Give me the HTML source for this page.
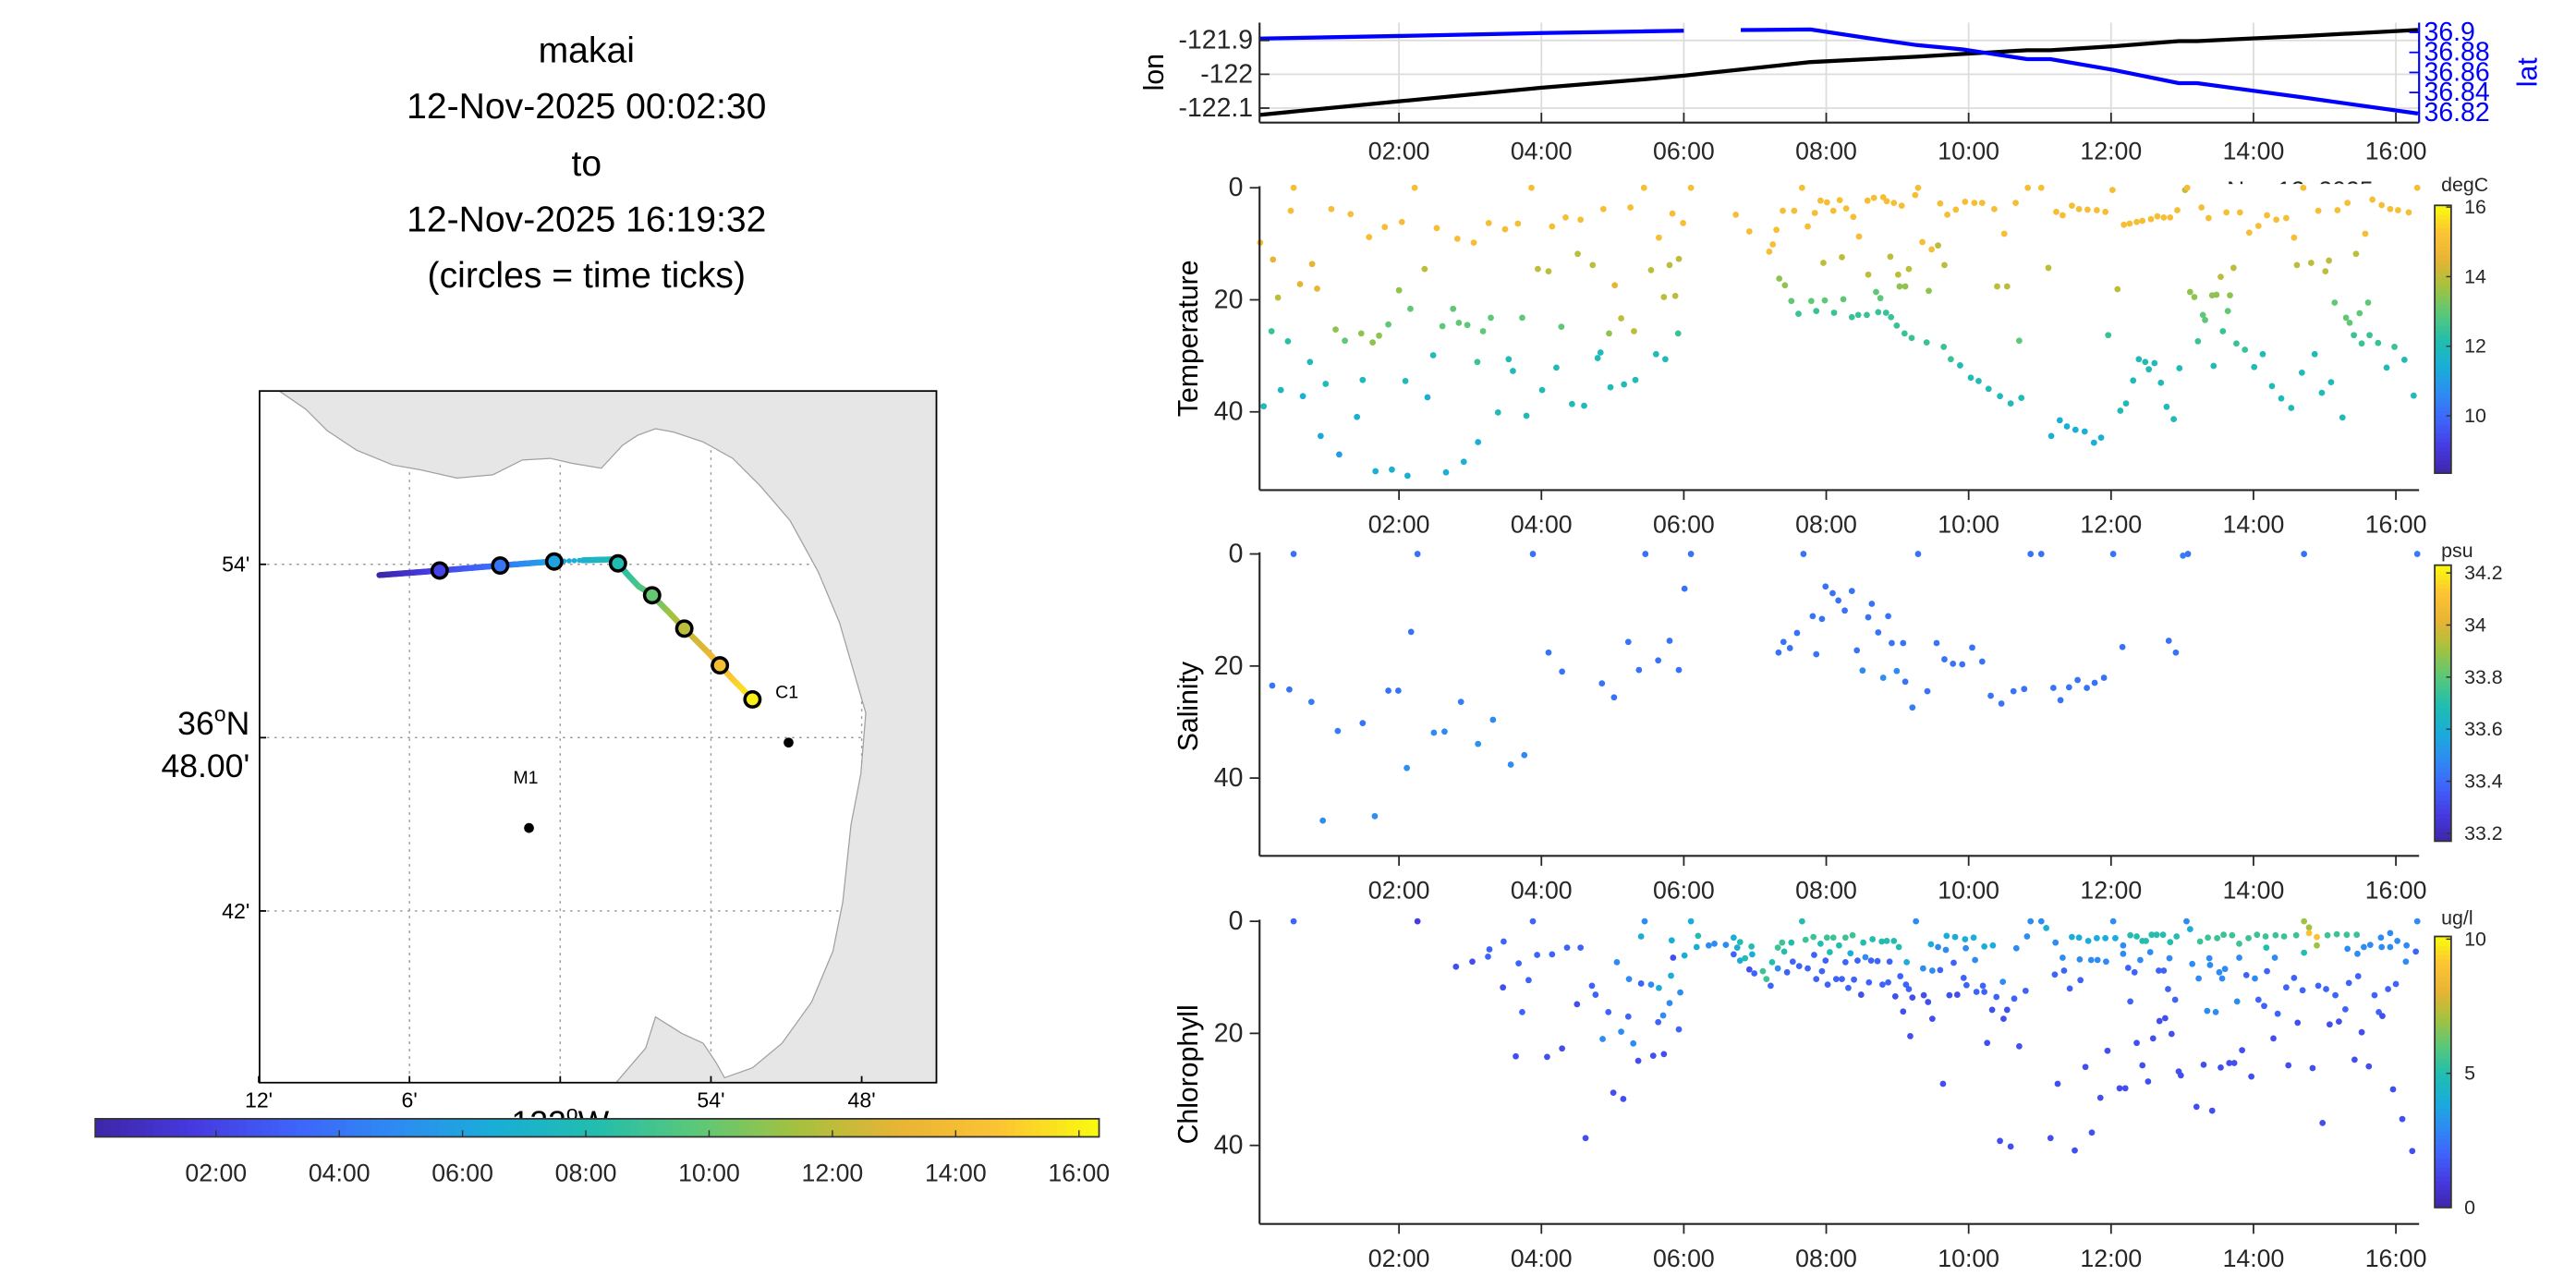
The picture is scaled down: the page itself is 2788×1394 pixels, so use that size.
<!DOCTYPE html>
<html><head><meta charset="utf-8"><style>
html,body{margin:0;padding:0;background:#fff;}
svg{display:block;font-family:"Liberation Sans",sans-serif;}
</style></head><body>
<svg id="fig" xmlns="http://www.w3.org/2000/svg" width="2788" height="1394" viewBox="0 0 1568 784">
<rect x="0" y="0" width="1568" height="784" fill="#fff"/>
<g font-size="22" text-anchor="middle" fill="#000">
<text x="357" y="38">makai</text>
<text x="357" y="72">12-Nov-2025 00:02:30</text>
<text x="357" y="107">to</text>
<text x="357" y="141">12-Nov-2025 16:19:32</text>
<text x="357" y="175">(circles = time ticks)</text>
</g>
<g id="map"></g>
<g id="mapcb"></g>
<g id="top"></g>
<g id="ptemp"></g>
<g id="psal"></g>
<g id="pchl"></g>
</svg>
<script>
// ---------- data ----------
const timeTicks = [2,4,6,8,10,12,14,16];
const timeTickLabels = ["02:00","04:00","06:00","08:00","10:00","12:00","14:00","16:00"];
const tStart = 0.042, tEnd = 16.326;

const navTime = [0.04,2.0,3.99,5.44,6.0,6.4,6.8,7.78,8.63,9.27,9.92,10.82,11.15,12.05,12.95,13.21,14.70,16.31];
const navLon  = [-122.12,-122.08,-122.04,-122.015,-122.004,-121.995,-121.986,-121.964,-121.955,-121.948,-121.94,-121.929,-121.929,-121.917,-121.902,-121.902,-121.887,-121.869];
const navLat  = [36.8938,36.8964,36.8993,36.9010,36.9016,NaN,36.9023,36.9029,36.8938,36.8873,36.8830,36.8733,36.8733,36.8623,36.8493,36.8493,36.835,36.819];
const lonTicks = [-121.9,-122,-122.1];
const latTicks = [36.9,36.88,36.86,36.84,36.82];

const tempTime = [0.05,0.23,0.30,0.21,0.10,0.44,0.34,0.52,0.48,0.61,0.78,0.85,0.75,0.65,0.97,0.90,1.05,1.11,1.16,1.24,1.32,1.41,1.47,1.49,1.58,1.63,1.67,1.72,1.80,1.85,1.90,2.0,2.04,2.09,2.12,2.16,2.22,2.36,2.40,2.48,2.53,2.61,2.66,2.76,2.82,2.84,2.91,2.96,3.05,3.10,3.11,3.18,3.26,3.29,3.39,3.49,3.54,3.60,3.67,3.73,3.79,3.86,3.95,4.01,4.10,4.15,4.21,4.28,4.34,4.43,4.51,4.55,4.60,4.72,4.79,4.83,4.87,4.95,4.97,5.03,5.12,5.16,5.25,5.30,5.32,5.44,5.54,5.61,5.65,5.72,5.74,5.80,5.84,5.88,5.93,5.92,5.99,6.10,
6.73,6.92,7.20,7.25,7.30,7.34,7.39,7.42,7.51,7.55,7.61,7.66,7.74,7.79,7.86,7.84,7.92,7.96,7.98,8.01,8.10,8.11,8.19,8.22,8.24,8.28,8.36,8.38,8.45,8.46,8.57,8.59,8.58,8.67,8.70,8.73,8.76,8.80,8.84,8.85,8.91,8.90,8.95,8.99,9.01,9.03,9.06,9.10,9.11,9.16,9.20,9.25,9.29,9.35,9.41,9.44,9.48,9.57,9.60,9.65,9.66,9.70,9.75,9.82,9.88,9.95,10.03,10.08,10.14,10.19,10.28,10.36,10.40,10.44,10.50,10.54,10.59,10.66,10.74,10.71,10.83,
11.02,11.12,11.16,11.23,11.28,11.32,11.38,11.45,11.50,11.55,11.63,11.67,11.76,11.80,11.86,11.92,11.96,12.02,12.09,12.13,12.18,12.21,12.26,12.31,12.36,12.39,12.44,12.48,12.53,12.56,12.61,12.65,12.70,12.74,12.78,12.83,12.88,12.93,12.96,13.04,13.07,13.11,13.17,13.22,13.27,13.29,13.32,13.37,13.42,13.44,13.48,13.54,13.57,13.62,13.64,13.67,13.72,13.76,13.81,13.88,13.94,14.01,14.07,14.13,14.19,14.26,14.32,14.39,14.46,14.53,14.57,14.61,14.68,14.70,14.81,14.86,14.91,14.96,15.01,15.06,15.09,15.14,15.18,15.25,15.30,15.32,15.35,15.41,15.44,15.49,15.52,15.57,15.61,15.63,15.67,15.75,15.80,15.87,15.92,15.98,16.03,16.12,16.18,16.25,16.30];
const tempDepth = [9.8,12.8,19.6,25.6,39,27.4,36.1,0,4.1,17.2,13.6,18,31.1,37.2,35,44.3,3.8,25.3,47.6,27.3,4.7,40.9,26,34.3,8.8,27.6,50.6,26.4,7,24.4,50.3,18.3,6.1,34.5,51.4,21.6,0,14.5,37.4,29.9,7.2,24.7,50.8,21.6,9.1,24.1,48.9,24.5,9.8,31.1,45.4,25.6,6.3,23.2,40.1,7.4,30.6,32.7,6.4,23.2,40.7,0,14.5,36.1,14.9,6.9,32.1,24.8,5.3,38.6,11.8,5.7,38.9,13.8,30.4,29.4,3.8,26,35.6,17.4,23.3,35.1,3.5,25.6,34.3,0,14.7,29.7,8.9,19.5,30.6,13.8,4.6,19.3,12.7,26,6.3,0,
4.8,7.8,11.4,10.1,7.5,16.2,4.1,17.4,20.2,4.1,22.5,0,6.9,20.2,22,4.5,2.3,13.4,20.1,2.6,4.1,22.3,2.2,12.4,19.9,3.7,23.1,5.2,22.7,8.7,22.7,15.5,2.3,1.8,18.6,22.2,19.7,1.7,22.3,2.4,23.1,12.3,2.7,24.6,15.5,17.6,3.2,26,17.6,14.5,26.8,1.3,0,9.7,27.6,18.4,11,10.3,2.8,28.4,13.8,4.8,30.6,3.9,31.7,2.5,33.9,2.7,34.5,2.7,35.9,3.8,17.6,37.2,8.2,17.6,38.5,2.7,37.5,27.3,0,
0,14.3,44.3,4.3,41.5,4.9,42.6,3.2,43.2,3.8,43.5,3.9,45.5,4,44.6,4.3,26.3,0.4,18.1,39.8,6.6,38.5,6.4,34.4,6.1,30.6,5.9,31.1,32.4,5.6,31.3,5.1,34.8,5.3,39.1,5.3,41.3,4,32.2,0.4,0,18.6,19.5,27.4,3.5,22.7,23.6,5.4,19.2,31.8,19.1,15.9,25.6,4.4,22,19.2,14.3,27.8,4.4,28.9,8,32,6.8,29.7,4.9,35.4,5.7,37.6,5.4,39.3,8.9,13.8,33,0,13.4,29.7,4.1,36.6,14.9,13,34.7,20.5,4,41,23.2,2.7,24.1,26.3,11.8,22.4,27.8,8.2,20.5,26.3,2.1,27.7,3.1,32.1,3.8,28.4,4,30.7,4.4,37.1,0];
const tempValue = [15,14.5,14,12.5,12,12.3,11.8,15,15,14.5,14.5,14.5,12,11.5,12,11.3,15,13.5,11,13,15,11.5,13.5,12,15,13.5,11.5,13.5,15,13,11.5,13.5,15,12,11.5,13,15,14,11.5,12,15,13,11.5,13,15,13,11.5,13,15,12.5,11.5,13,15,13,12,15,12,12,15,13,12,15,14,12,14,15,12,13,15,12,14,15,12,14,12,12,15,13.5,12,14.5,14,12,15,14,12,15,14,12,15,14,12,14,15,14,14,12.5,15,15,
15,15,15,15,15,13.5,15,13.5,13,15,12.5,15,15,13,12.5,15,15,14,13,15,15,12.5,15,14,13,15,12.5,15,12.5,15,12.5,14,15,15,13,12.5,13,15,12.5,15,12.5,14,15,12.5,14,13.5,15,12.5,13.5,14,12.5,15,15,15,12.5,13.5,15,14,15,12.5,14,15,12.5,15,12,15,12,15,12,15,12,15,14,12,15,14,12,15,12,13,15,
15,14,11.5,15,11.5,15,11.5,15,11.5,15,11.5,15,11.5,15,11.5,15,12.5,15,14,12,15,12,15,12,15,12,15,12,12,15,12,15,12,15,12,15,12,15,12,14,15,13.5,13.5,12.5,15,13,13,15,13.5,12,13.5,14,12.5,15,13,13.5,14,12.5,15,12.5,15,12,15,12,15,12,15,12,15,12,15,14,12,15,14,12,15,12,14,14,12,13,15,12,13,15,13,12.5,14,13,12.5,15,13,12.5,15,12.5,15,12,15,12.5,15,12,15,12,15];

const salTime = [0.52,2.26,3.88,5.46,6.10,7.68,9.29,10.87,11.02,12.03,13.01,13.08,14.71,16.30,6.01,2.17,
0.22,0.46,0.77,1.85,1.99,2.87,1.14,1.49,2.49,2.64,3.32,3.11,2.11,3.76,3.57,0.93,1.66,
4.10,4.29,4.85,5.02,5.22,5.37,5.64,5.80,5.93,
7.33,7.40,7.49,7.59,7.81,7.86,7.94,7.99,8.09,8.17,8.26,8.36,8.43,8.51,8.59,8.64,8.73,8.80,8.87,8.92,8.99,9.08,9.11,9.21,9.42,9.55,9.66,9.78,9.91,10.05,10.19,10.31,10.46,10.63,10.78,11.19,11.29,11.41,11.53,11.66,11.77,11.90,12.16,12.81,12.91];
const salDepth = [0,0,0,0,0,0,0,0,0,0,0.3,0,0,0,6.2,13.9,
23.5,24.2,26.4,24.4,24.4,26.4,31.6,30.2,31.9,31.7,29.6,33.9,38.2,35.9,37.6,47.6,46.8,
17.6,21,23.1,25.6,15.7,20.7,19,15.5,20.7,
17.6,15.7,16.8,14.1,11.1,17.9,11.6,5.8,7,8.3,10.1,6.6,17.2,20.8,11.3,8.9,14,22.1,11.1,15.9,20.9,15.9,22.8,27.4,24.5,15.9,18.8,19.6,19.7,16.7,19.2,25.3,26.7,24.5,24.1,23.9,26.1,23.8,22.5,23.9,23,22.1,16.6,15.5,17.6];
const salValue = [33.42,33.42,33.42,33.42,33.42,33.42,33.42,33.42,33.42,33.42,33.45,33.42,33.42,33.45,33.42,33.42,
33.42,33.42,33.45,33.42,33.42,33.45,33.45,33.42,33.48,33.48,33.48,33.5,33.5,33.48,33.5,33.5,33.5,
33.42,33.42,33.42,33.42,33.42,33.42,33.42,33.42,33.42,
33.42,33.42,33.42,33.42,33.42,33.42,33.42,33.42,33.42,33.42,33.42,33.42,33.42,33.48,33.42,33.42,33.42,33.5,33.42,33.42,33.48,33.42,33.42,33.45,33.42,33.42,33.42,33.42,33.42,33.42,33.42,33.42,33.42,33.42,33.42,33.42,33.42,33.42,33.42,33.42,33.42,33.42,33.42,33.42,33.42];

const chlTime = [0.52,2.26,3.88,5.45,6.10,7.66,9.26,10.87,11.02,11.09,12.03,13.06,14.71,14.78,14.78,14.89,14.89,16.30,
3.47,3.27,3.25,3.03,2.80,3.68,3.94,4.15,4.36,4.55,3.82,3.46,3.73,4.50,4.71,4.76,4.94,5.22,5.06,5.23,5.40,5.54,5.65,5.40,5.83,5.85,5.82,5.95,5.80,5.71,5.64,5.93,5.12,4.86,5.29,4.29,4.08,3.64,5.72,5.57,5.36,5.01,5.15,4.62,
6.01,6.20,6.18,6.35,6.43,6.59,6.70,6.79,6.75,6.70,6.79,6.86,6.95,6.96,6.92,6.99,7.11,7.16,7.22,7.24,7.32,7.38,7.41,7.32,7.45,7.51,7.53,7.62,7.71,7.74,7.82,7.83,7.86,7.92,7.94,7.99,8.01,8.02,8.05,8.10,8.14,8.18,8.22,8.27,8.27,8.31,8.34,8.37,8.39,8.44,8.49,8.52,8.55,8.60,8.65,8.63,8.72,8.78,8.79,8.85,8.87,8.89,8.95,8.97,9.02,9.04,9.12,9.13,9.16,9.21,9.08,9.18,9.37,9.43,9.36,9.47,9.49,9.60,9.49,9.64,9.69,9.57,9.68,9.81,9.79,9.84,9.73,9.93,9.97,9.95,9.96,10.07,10.09,10.11,10.20,10.22,10.22,10.34,10.39,10.33,10.48,10.54,10.49,10.64,10.67,10.26,10.71,10.44,10.59,
10.80,10.82,11.21,11.22,11.32,11.34,11.42,11.45,11.55,11.56,11.57,11.68,11.72,11.80,11.81,11.92,11.93,12.06,12.17,12.17,12.24,12.27,12.33,12.36,12.41,12.44,12.49,12.55,12.57,12.64,12.67,12.73,12.74,12.82,12.83,12.92,12.80,12.90,12.27,12.68,12.76,12.85,12.59,12.36,11.95,11.64,12.44,12.52,12.95,12.98,11.25,11.85,12.12,12.20,11.73,11.49,11.15,
13.14,13.11,13.23,13.25,13.36,13.38,13.39,13.49,13.52,13.56,13.58,13.60,13.70,13.80,13.80,13.90,13.93,14.05,14.02,14.17,14.18,14.19,14.30,14.31,14.43,14.46,14.57,14.60,14.69,14.71,14.91,15.02,15.04,15.15,15.17,15.31,15.32,15.34,15.45,15.46,15.47,15.55,15.64,15.70,15.79,15.80,15.89,15.92,15.92,16.00,16.02,16.15,16.14,16.28,13.35,13.47,13.77,14.07,14.15,14.34,14.62,15.07,15.20,15.29,15.76,15.81,15.52,14.28,13.84,13.66,13.73,13.54,13.30,13.97,14.49,14.83,15.42,15.62,15.96,13.20,13.42,14.97,16.09,16.23];
const chlDepth = [0,0,0,0,0,0,0,0,0,1.2,0,0,0,1.1,2.1,2.8,4.3,0,
3.6,5,6.3,7.2,8.1,7.5,6,5.9,4.7,4.7,10.5,11.8,16.2,14.8,11.5,13.1,16.2,17,7.3,10.3,11.1,11.3,11.9,2.7,3.4,6.5,9.7,12.7,14.6,16.8,18,19.3,19.7,21,21.8,22.7,24.2,24.1,23.7,24,24.9,30.6,31.7,38.7,
6.1,2.6,4.6,4.3,4,4.2,2.9,3.7,4.7,5.9,7,6.6,4.5,5.9,8.6,9.3,8.9,10.3,11.5,7.3,4.7,3.8,5.4,8.4,9.1,3.8,7.2,8,3.3,8.4,2.8,6,10.3,4,8.9,7,2.9,11.3,5.5,2.9,10.3,4.3,10.3,2.9,7.3,11.9,5.7,2.5,10.4,7,13.1,3.8,6.4,10.9,3.2,7,7.1,3.6,11.3,3.5,10.9,7.2,3.5,13.4,4.6,9.8,11.3,7.3,12.1,13.6,16.1,20.5,13.2,14.4,8.4,4.1,8.8,8.7,17.4,29,2.6,4.6,5.1,2.8,7.4,13.1,13.2,10.1,11.4,3.2,4.8,2.9,6.9,12.6,11.5,12.6,4.5,4.3,13.5,15.8,10.8,15.8,17.4,13.8,4.8,21.7,22.3,39.2,40.2,
12.4,2.7,9.5,3.8,6.5,8.8,12,2.8,2.9,6.8,10.5,3.5,6.9,3,6.9,3,7.2,3,4.3,5.8,8.3,2.5,9.1,2.7,6.9,3.5,3.5,5.5,2.4,2.4,8.8,2.4,8.8,6.6,3.7,2.7,12.1,14,14.3,17.8,17.3,20.1,20.9,21.7,23.1,26,25.7,28.6,26.8,27.5,29,31.5,29.8,29.8,37.7,40.9,38.7,
7.6,1.4,10.2,3.6,2.9,6.6,7.8,3,9.1,10.2,2.4,8.5,2.5,4,6.5,9.6,3,2.4,10.2,2.7,4.7,8.9,6.5,2.5,2.7,11.8,10.1,2.5,12.3,5.6,11.5,12.1,2.5,13.2,2.3,2.4,4.9,11,2.4,5.8,9.8,4.6,4.2,13.2,2.9,4.6,12.1,2.1,4.6,11.2,3.5,4.3,7.2,5.4,16,16.2,14.3,14,15.1,16.5,18.1,18.4,17.9,15.7,16.2,16.9,19.8,20.9,23,25.3,25.3,26.1,25.6,27.7,25.7,26.2,24.7,25.9,30,33.1,33.8,36,35.3,41];
const chlValue = [2,1,2,3,4,5,3,3,3,4,3,3,7,7,9,9,7,3,
2,2,2,1.5,1.5,2,2,2,2,2,2,1.5,2,1.5,2,2,2,2,3,3,2,3,4,4,4,1.5,4,3,3,3,2,2,3,3,3,1.5,1.5,1.5,1.5,1.5,1.5,1.5,1.5,1.5,
4,5,4,3,3,3,4,5,4,2,4,5,5,4,1.5,2,5.5,5.5,2,5,5.5,5.5,5,3,2,5,2,2,5.5,2,5.5,2,2,5,2,2,5.5,2,5,5.5,2,5,2,5.5,2,2,4,5.5,2,2,1.5,5,3,2,5,2,2,5,2,5,2,2,5,1.5,5,2,2,4,2,1.5,1.5,1.5,1.5,1.5,3,4,3,2,1.5,1.5,4,3,3,4,2,1.5,1.5,2,2,4,3,4,3,2,2,2,4,4,2,1.5,3,1.5,1.5,2,3,1.5,1.5,1.5,1.5,
2,3,2,3,3,2,2,4,4,3,2,4,3,4,3,4,3,4,3,3,2,5,2,5,3,5,5,3,5,5,2,5,2,3,5,5,2,2,2,1.5,1.5,1.5,1.5,1.5,1.5,1.5,1.5,1.5,1.5,1.5,1.5,1.5,1.5,1.5,1.5,1.5,1.5,
3,4,3,5.5,5.5,3,3,5.5,3,3,5.5,3,5.5,5.5,3,2,5.5,5.5,3,5.5,5,2,3,5.5,5.5,2,2,5.5,2,5,2,2,5.5,2,5.5,5.5,3,2,5.5,3,2,3,3,2,3,3,2,3,3,2,3,3,3,2,3,3,3,2,2,2,1.5,1.5,1.5,2,2,1.5,1.5,1.5,1.5,1.5,1.5,1.5,1.5,1.5,1.5,1.5,1.5,1.5,1.5,1.5,1.5,1.5,1.5,1.5];

const depthTicks = [0,20,40];
const tempCbTicks = [10,12,14,16], salCbTicks = [33.2,33.4,33.6,33.8,34,34.2], chlCbTicks = [0,5,10];

// ---------- helpers ----------
const NS = "http://www.w3.org/2000/svg";
function el(tag, attrs, parent){ const e=document.createElementNS(NS,tag); for(const k in attrs) e.setAttribute(k,attrs[k]); if(parent) parent.appendChild(e); return e; }
function txt(parent, x, y, s, attrs){ const e=el("text",Object.assign({x:x,y:y},attrs||{}),parent); e.textContent=s; return e; }
const stops=[[0,[62,38,168]],[0.1,[70,58,225]],[0.2,[62,100,250]],[0.3,[45,140,242]],[0.4,[25,174,215]],[0.5,[34,190,172]],[0.6,[92,200,120]],[0.7,[165,193,62]],[0.8,[232,180,52]],[0.9,[252,195,52]],[1,[249,251,14]]];
function parula(f){ f=Math.max(0,Math.min(1,f)); for(let i=1;i<stops.length;i++){ if(f<=stops[i][0]){ const a=stops[i-1],b=stops[i],u=(f-a[0])/(b[0]-a[0]); const c=a[1].map((v,j)=>Math.round(v+(b[1][j]-v)*u)); return "rgb("+c.join(",")+")"; } } return "rgb(249,251,14)"; }
function interp(xs, ys, x){ for(let i=1;i<xs.length;i++){ if(x<=xs[i]){ const u=(x-xs[i-1])/(xs[i]-xs[i-1]); return ys[i-1]+(ys[i]-ys[i-1])*u; } } return ys[ys.length-1]; }
function latFilled(t){ const xs=[],ys=[]; navTime.forEach((v,i)=>{ if(!isNaN(navLat[i])){xs.push(v);ys.push(navLat[i]);} }); return interp(xs,ys,t); }
const timeFrac = t => (t-tStart)/(tEnd-tStart);

// ---------- time axis for right panels ----------
const X0 = 766.7, X1 = 1472.5;
const xT = t => X0 + (t - tStart) * (X1 - X0) / (tEnd - tStart);
const TXT = "#262626";

function xAxis(g, yb, inward, labelY){
  el("line",{x1:X0,y1:yb,x2:X1,y2:yb,stroke:"#262626","stroke-width":1.2},g);
  timeTicks.forEach((t,i)=>{
    const x=xT(t);
    const tk=el("line",{x1:x,y1:yb,x2:x,y2:inward?yb-6:yb+6,stroke:"#262626","stroke-width":1},g);
    
    
    const lb=txt(g,x,labelY,timeTickLabels[i],{"font-size":15,"text-anchor":"middle",fill:TXT,"dominant-baseline":"central"});
    
    
  });
}

// ---------- top lon/lat panel ----------
(function(){
  const g=document.getElementById("top");
  const yTop=13.8, yBot=74.6;
  const yLon = v => 45.2 - (v + 122) * 206;
  const yLat = v => 19.7 + (36.9 - v) * 610;
  timeTicks.forEach(t=>{ const l=el("line",{x1:xT(t),y1:yTop,x2:xT(t),y2:yBot,stroke:"#dcdcdc","stroke-width":1},g);   });
  lonTicks.forEach(v=>{ const l=el("line",{x1:X0,y1:yLon(v),x2:X1,y2:yLon(v),stroke:"#dcdcdc","stroke-width":1},g);   });
  const lonPath=el("polyline",{points:navTime.map((t,i)=>xT(t)+","+yLon(navLon[i])).join(" "),fill:"none",stroke:"#000","stroke-width":2.4},g);
  
  
  let segs=[],cur=[];
  navTime.forEach((t,i)=>{ if(isNaN(navLat[i])){ if(cur.length) segs.push(cur); cur=[]; } else cur.push(xT(t)+","+yLat(navLat[i])); });
  if(cur.length) segs.push(cur);
  segs.forEach(s=>{ const p=el("polyline",{points:s.join(" "),fill:"none",stroke:"#0000ff","stroke-width":2.4},g);   });
  el("line",{x1:X0,y1:yTop,x2:X0,y2:yBot,stroke:"#262626","stroke-width":1.2},g);
  el("line",{x1:X1,y1:yTop,x2:X1,y2:yBot,stroke:"#0000ff","stroke-width":1.2},g);
  xAxis(g,yBot,true,92);
  lonTicks.forEach(v=>{ const y=yLon(v);
    el("line",{x1:X0,y1:y,x2:X0+6,y2:y,stroke:"#262626","stroke-width":1},g);
    const lb=txt(g,X0-4,y,String(v),{"font-size":16,"text-anchor":"end",fill:TXT,"dominant-baseline":"central"});
    
    
  });
  latTicks.forEach(v=>{ const y=yLat(v);
    el("line",{x1:X1,y1:y,x2:X1-6,y2:y,stroke:"#0000ff","stroke-width":1},g);
    const lb=txt(g,X1+3,y,String(v),{"font-size":16,"text-anchor":"start",fill:"#0000ff","dominant-baseline":"central"});
    
    
  });
  const yl=txt(g,0,0,"lon",{"font-size":17,"text-anchor":"middle",fill:"#000",transform:"translate(708,44) rotate(-90)"});
   
  const yr=txt(g,0,0,"lat",{"font-size":17,"text-anchor":"middle",fill:"#0000ff",transform:"translate(1544,44) rotate(-90)"});
   
  const dl=txt(g,1400,121,"Nov 12, 2025",{"font-size":15,"text-anchor":"middle",fill:TXT});
   
  el("rect",{x:X0+2,y:112,width:X1-X0-2,height:20,fill:"#fff"},g);
})();

// ---------- scatter panels ----------
function scatterPanel(id, y0, yBot, title, times, depths, vals, vmin, vmax, cbTop, cbBot, cbTicks, unit, titleY){
  const g=document.getElementById(id);
  const yD = d => y0 + d*3.41;
  times.forEach((t,i)=>{
    const c=el("circle",{cx:xT(t),cy:yD(depths[i]),r:1.9,fill:parula((vals[i]-vmin)/(vmax-vmin))},g);
    
    
  });
  el("line",{x1:X0,y1:y0-1,x2:X0,y2:yBot,stroke:"#262626","stroke-width":1.2},g);
  xAxis(g,yBot,false,yBot+21);
  depthTicks.forEach(d=>{ const y=yD(d);
    el("line",{x1:X0,y1:y,x2:X0-6,y2:y,stroke:"#262626","stroke-width":1},g);
    const lb=txt(g,X0-10,y,String(d),{"font-size":16,"text-anchor":"end",fill:TXT,"dominant-baseline":"central"});
    
    
  });
  const tl=txt(g,0,0,title,{"font-size":17,"text-anchor":"middle",fill:"#000",transform:"translate(729,"+titleY+") rotate(-90)"});
   
  const cb=el("g",{},g);
  
  
  const n=60, h=(cbBot-cbTop)/n;
  for(let i=0;i<n;i++){ el("rect",{x:1482,y:cbBot-(i+1)*h,width:10,height:h+0.4,fill:parula((i+0.5)/n)},cb); }
  el("rect",{x:1482,y:cbTop,width:10,height:cbBot-cbTop,fill:"none",stroke:"#333","stroke-width":1},cb);
  const yc = v => cbBot - (v-vmin)/(vmax-vmin)*(cbBot-cbTop);
  cbTicks.forEach(v=>{ const y=yc(v);
    el("line",{x1:1489,y1:y,x2:1492,y2:y,stroke:"#333","stroke-width":0.8},cb);
    const lb=txt(cb,1500,y,String(v),{"font-size":12,fill:TXT,"dominant-baseline":"central"});
    
    
  });
  const u=txt(g,1486,y0+2,unit,{"font-size":12,fill:TXT});
   
}
scatterPanel("ptemp",114.3,298.3,"Temperature",tempTime,tempDepth,tempValue,8.35,16.05,125,288,tempCbTicks,"degC",206);
scatterPanel("psal",337.2,521,"Salinity",salTime,salDepth,salValue,33.17,34.23,344,512,salCbTicks,"psu",430);
scatterPanel("pchl",560.8,745,"Chlorophyll",chlTime,chlDepth,chlValue,0,10.1,570,735,chlCbTicks,"ug/l",654);

// ---------- map ----------
(function(){
  const g=document.getElementById("map");
  const L=158,R=570,T=238,B=659;
  const mx = lon => 341 + (lon + 122) * 917.5;
  const my = lat => 449 - (lat - 36.8) * 1055;
  const gridLons=[-122.1,-122,-121.9,-121.8], gridLats=[36.9,36.8,36.7];
  gridLons.forEach(v=>{ const l=el("line",{x1:mx(v),y1:T,x2:mx(v),y2:B,stroke:"#999","stroke-width":0.8,"stroke-dasharray":"1.5,3"},g);   });
  gridLats.forEach(v=>{ const l=el("line",{x1:L,y1:my(v),x2:R,y2:my(v),stroke:"#999","stroke-width":0.8,"stroke-dasharray":"1.5,3"},g);   });
  const land=el("path",{d:"M170,238 L186,249 L199,262 L217,274 L239,283 L256,286 L278,291 L300,289 L318,280 L335,279 L348,282 L366,285 L379,271 L388,265 L399,261 L410,263 L428,269 L446,279 L463,296 L481,317 L498,348 L511,379 L520,410 L527,434 L524,471 L518,502 L513,549 L507,579 L494,610 L476,635 L458,650 L441,656 L436,647 L428,635 L415,629 L399,619 L393,638 L375,659 L570,659 L570,238 Z",fill:"#e6e6e6",stroke:"#a0a0a0","stroke-width":0.7},g);
  
  
  el("rect",{x:L,y:T,width:R-L,height:B-T,fill:"none",stroke:"#000","stroke-width":1},g);
  const tr=el("g",{},g);
  
  
  const gapA=navTime[4], gapB=navTime[6];
  for(let t=tStart;t<tEnd;t+=0.05){
    const t2=Math.min(t+0.05,tEnd);
    const inGap = t>gapA && t<gapB;
    const col=parula(timeFrac(t));
    if(inGap){ if(Math.round(t/0.05)%3===0) el("circle",{cx:mx(interp(navTime,navLon,t)),cy:my(latFilled(t)),r:1.6,fill:col},tr); }
    else el("line",{x1:mx(interp(navTime,navLon,t)),y1:my(latFilled(t)),x2:mx(interp(navTime,navLon,t2)),y2:my(latFilled(t2)),stroke:col,"stroke-width":3.6,"stroke-linecap":"round"},tr);
  }
  timeTicks.forEach(t=>{
    const c=el("circle",{cx:mx(interp(navTime,navLon,t)),cy:my(latFilled(t)),r:4.6,fill:parula(timeFrac(t)),stroke:"#000","stroke-width":2},tr);
    
    
  });
  const m1=el("circle",{cx:322,cy:504,r:3,fill:"#000"},g);  
  const m1l=txt(g,320,477,"M1",{"font-size":11,"text-anchor":"middle",fill:"#000"});  
  const c1=el("circle",{cx:480,cy:452,r:3,fill:"#000"},g);  
  const c1l=txt(g,479,425,"C1",{"font-size":11,"text-anchor":"middle",fill:"#000"});  
  [["54'",36.9],["42'",36.7]].forEach(p=>{ el("line",{x1:L,y1:my(p[1]),x2:L+4,y2:my(p[1]),stroke:"#000"},g); const lb=txt(g,152,my(p[1]),p[0],{"font-size":13,"text-anchor":"end",fill:"#000","dominant-baseline":"central"});   });
  el("line",{x1:L,y1:my(36.8),x2:L+4,y2:my(36.8),stroke:"#000"},g);
  const n1=el("text",{x:152,y:447,"font-size":20,"text-anchor":"end",fill:"#000"},g);
   
  n1.innerHTML='36<tspan font-size="13" dy="-8">o</tspan><tspan dy="8">N</tspan>';
  const n2=txt(g,152,473,"48.00'",{"font-size":20,"text-anchor":"end",fill:"#000"});
   
  [["12'",-122.2],["6'",-122.1],["54'",-121.9],["48'",-121.8]].forEach(p=>{ const x=mx(p[1]); el("line",{x1:x,y1:B,x2:x,y2:B-4,stroke:"#000"},g); const lb=txt(g,x,674,p[0],{"font-size":13,"text-anchor":"middle",fill:"#000"});   });
  el("line",{x1:341,y1:B,x2:341,y2:B-4,stroke:"#000"},g);
  const w=el("text",{x:341,y:690,"font-size":20,"text-anchor":"middle",fill:"#000"},g);
   
  w.innerHTML='122<tspan font-size="13" dy="-8">o</tspan><tspan dy="8">W</tspan>';
})();

// ---------- map time colorbar ----------
(function(){
  const g=document.getElementById("mapcb");
  const L=58,R=669,T=681,B=692;
  const n=120,w=(R-L)/n;
  for(let i=0;i<n;i++) el("rect",{x:L+i*w,y:T,width:w+0.4,height:B-T,fill:parula((i+0.5)/n)},g);
  el("rect",{x:L,y:T,width:R-L,height:B-T,fill:"none",stroke:"#333","stroke-width":1},g);
  const xc = t => L + timeFrac(t)*(R-L);
  timeTicks.forEach((t,i)=>{
    const x=xc(t);
    el("line",{x1:x,y1:B,x2:x,y2:B-4,stroke:"#333","stroke-width":0.8},g);
    const lb=txt(g,x,714,timeTickLabels[i],{"font-size":15,"text-anchor":"middle",fill:TXT,"dominant-baseline":"central"});
    
    
  });
})();
</script>
</body></html>
